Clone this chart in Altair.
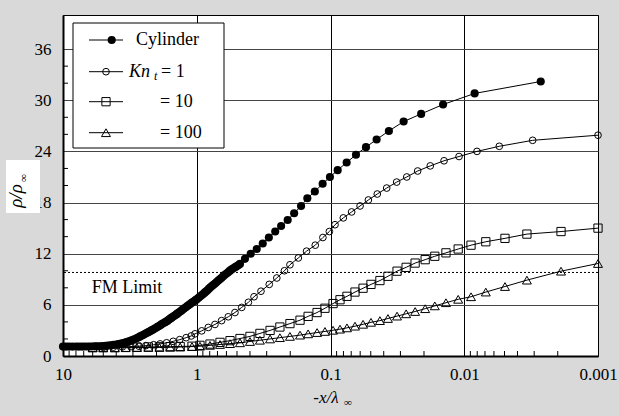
import altair as alt
import pandas as pd

# ---------------- data ----------------
cyl_x = [10, 9.5, 9, 8.5, 8, 7.6, 7.2, 6.85, 6.5, 6.15, 5.8, 5.55, 5.3, 5.05, 4.8, 4.6, 4.4,
         4.2, 4.0, 3.85, 3.7, 3.55, 3.4, 3.3, 3.2, 3.1, 3.0, 2.9, 2.8, 2.72, 2.65, 2.57,
         2.5, 2.43, 2.37, 2.3, 2.24, 2.18, 2.12, 2.06, 2.0, 1.95, 1.9, 1.85, 1.8, 1.75, 1.71,
         1.66, 1.62, 1.58, 1.54, 1.5, 1.46, 1.42, 1.39, 1.355, 1.32, 1.29, 1.26, 1.23, 1.2,
         1.17, 1.14, 1.115, 1.09, 1.065, 1.04, 1.02,
         1.0, 0.975, 0.95, 0.925, 0.9, 0.877, 0.855, 0.832, 0.81, 0.79, 0.77, 0.75, 0.73,
         0.71, 0.69, 0.672, 0.655, 0.637, 0.62, 0.602, 0.585, 0.57, 0.555, 0.54, 0.525,
         0.512, 0.5, 0.487, 0.475,
         0.436, 0.395, 0.356, 0.321, 0.289, 0.259, 0.234, 0.209, 0.187, 0.166,
         0.149, 0.131, 0.1145, 0.101, 0.0884, 0.0757, 0.0645, 0.0543, 0.0452, 0.0366, 0.0284,
         0.021, 0.0144, 0.00836, 0.00268]
cyl_y = [1.1, 1.1, 1.1, 1.1, 1.1, 1.1, 1.1, 1.11, 1.12, 1.12, 1.13, 1.14, 1.15, 1.17, 1.2,
         1.22, 1.25, 1.3, 1.35, 1.4, 1.45, 1.52, 1.6, 1.66, 1.72, 1.8, 1.9, 2.0, 2.1, 2.2,
         2.3, 2.4,
         2.5, 2.6, 2.7, 2.8, 2.9, 3.0, 3.1, 3.22, 3.35, 3.45, 3.55, 3.68, 3.8, 3.9, 4.0,
         4.12, 4.25, 4.38, 4.5, 4.62, 4.75, 4.88, 5.0, 5.12, 5.25, 5.38, 5.5, 5.62, 5.75,
         5.88, 6.0, 6.12, 6.25, 6.35, 6.45, 6.55,
         6.65, 6.8, 6.95, 7.1, 7.25, 7.4, 7.55, 7.72, 7.9, 8.05, 8.2, 8.35, 8.5,
         8.68, 8.85, 9.0, 9.15, 9.32, 9.5, 9.65, 9.8, 9.95, 10.1, 10.22, 10.35,
         10.45, 10.55, 10.68, 10.8,
         11.4, 12.0, 12.55, 13.2, 13.9, 14.6, 15.25, 15.95, 16.75, 17.6,
         18.5, 19.3, 20.2, 21.0, 21.8, 22.7, 23.6, 24.5, 25.4, 26.4, 27.5,
         28.4, 29.5, 30.8, 32.2]

kn1_x = [5.0, 4.2, 3.6, 3.1, 2.7, 2.4, 2.1, 1.88, 1.68, 1.5, 1.34, 1.2, 1.1, 1.03, 0.918, 0.82,
         0.731, 0.652, 0.581, 0.518, 0.461, 0.411, 0.373, 0.331, 0.287, 0.252, 0.221, 0.201,
         0.174, 0.151, 0.13, 0.114, 0.102, 0.0925, 0.0802, 0.0695, 0.0601, 0.0521, 0.0447,
         0.038, 0.032, 0.0269, 0.0223, 0.01795, 0.01416, 0.01094, 0.00803, 0.00547, 0.00308,
         0.001]
kn1_y = [1.02, 1.04, 1.07, 1.1, 1.15, 1.22, 1.32, 1.42, 1.55, 1.72, 1.92, 2.15, 2.35, 2.6,
         2.95, 3.35, 3.7, 4.15, 4.6, 5.1, 5.7, 6.3, 6.95, 7.6, 8.4, 9.15, 10.0, 10.7, 11.5,
         12.3, 13.0, 13.9, 14.6, 15.4, 16.2, 16.9, 17.6, 18.3, 19.0, 19.7, 20.4, 21.0, 21.7,
         22.3, 22.9, 23.4, 24.0, 24.6, 25.3, 25.9]

kn10_x = [6.0, 5.0, 4.1, 3.4, 2.8, 2.3, 1.9, 1.58, 1.33, 1.085, 0.946, 0.796, 0.67, 0.564,
          0.475, 0.4, 0.337, 0.283, 0.239, 0.201, 0.169, 0.147, 0.126, 0.11, 0.0957, 0.0849,
          0.0753, 0.0656, 0.0571, 0.0498, 0.0427, 0.0372, 0.0318, 0.0272, 0.0233, 0.0196,
          0.0166, 0.0137, 0.0111, 0.0089, 0.0069, 0.00496, 0.0034, 0.00189, 0.001]
kn10_y = [1.0, 1.0, 1.0, 1.02, 1.04, 1.06, 1.08, 1.1, 1.12, 1.15, 1.25, 1.4, 1.6, 1.8, 2.05,
          2.3, 2.65, 3.0, 3.4, 3.8, 4.2, 4.65, 5.1, 5.6, 6.15, 6.6, 7.0, 7.5, 7.95, 8.4, 8.85,
          9.35, 9.95, 10.4, 10.9, 11.3, 11.7, 12.1, 12.55, 13.0, 13.4, 13.8, 14.3, 14.6, 15.0]

kn100_x = kn10_x
kn100_y = [0.95, 0.95, 0.95, 0.97, 0.98, 1.0, 1.0, 1.02, 1.05, 1.1, 1.15, 1.25, 1.35, 1.45,
           1.55, 1.7, 1.85, 2.0, 2.15, 2.3, 2.45, 2.6, 2.75, 2.88, 3.02, 3.15, 3.3, 3.5, 3.72,
           3.95, 4.15, 4.4, 4.68, 4.95, 5.22, 5.55, 5.88, 6.25, 6.65, 6.95, 7.5, 8.15, 8.9,
           9.95, 10.85]

fm_limit = 9.8
x_ticks = [10, 1, 0.1, 0.01, 0.001]
y_ticks = [0, 6, 12, 18, 24, 30, 36]
y_minor = [2, 4, 8, 10, 14, 16, 20, 22, 26, 28, 32, 34]
x_minor = [9, 8, 7, 6, 5, 4, 3, 2,
           0.9, 0.8, 0.7, 0.6, 0.5, 0.4, 0.3, 0.2,
           0.09, 0.08, 0.07, 0.06, 0.05, 0.04, 0.03, 0.02,
           0.009, 0.008, 0.007, 0.006, 0.005, 0.004, 0.003, 0.002]

# ---------------- chart ----------------
W, H = 535, 341
FONT = "Liberation Serif"

xscale = alt.Scale(type="log", domain=[0.001, 10], reverse=True)
yscale = alt.Scale(domain=[0, 36])

xaxis = alt.Axis(values=x_ticks, format="~g", title=None, grid=True, gridColor="black",
                 gridWidth=1, tickSize=0, domainColor="black", domainWidth=2,
                 labelFont=FONT, labelFontSize=17, labelColor="black", labelPadding=10,
                 labelFlush=False, labelOverlap=False)
yaxis = alt.Axis(values=y_ticks, title=None, grid=True, gridColor="#444", gridWidth=1.2,
                 tickSize=0, domainColor="black", domainWidth=2, labelFont=FONT,
                 labelFontSize=17, labelColor="black", labelPadding=12)

dummy = pd.DataFrame({"k": [0]})


def series(xs, ys, shape, filled, size):
    df = pd.DataFrame({"x": xs, "y": ys})
    base = alt.Chart(df).encode(
        x=alt.X("x:Q", scale=xscale, axis=xaxis),
        y=alt.Y("y:Q", scale=yscale, axis=yaxis),
    )
    line = base.mark_line(color="black", strokeWidth=1)
    pts = base.mark_point(shape=shape, filled=filled, size=size, color="black",
                          opacity=1, strokeWidth=1)
    return [line, pts]


layers = []

# minor ticks (inside)
layers.append(
    alt.Chart(pd.DataFrame({"v": y_minor})).mark_rule(color="black", strokeWidth=1).encode(
        y=alt.Y("v:Q", scale=yscale, axis=yaxis), x=alt.value(0), x2=alt.value(5))
)
layers.append(
    alt.Chart(pd.DataFrame({"v": x_minor})).mark_rule(color="black", strokeWidth=1).encode(
        x=alt.X("v:Q", scale=xscale, axis=xaxis), y=alt.value(H), y2=alt.value(H - 5))
)

# FM limit
layers.append(
    alt.Chart(dummy).mark_rule(color="black", strokeWidth=1, strokeDash=[2, 2]).encode(
        y=alt.datum(fm_limit))
)
layers.append(
    alt.Chart(dummy).mark_text(font=FONT, fontSize=18, align="left", baseline="middle",
                               color="black").encode(
        x=alt.datum(6.1), y=alt.datum(8.0), text=alt.value("FM Limit"))
)

layers += series(kn100_x, kn100_y, "triangle-up", False, 80)
layers += series(kn10_x, kn10_y, "square", False, 68)
layers += series(kn1_x, kn1_y, "circle", False, 45)
layers += series(cyl_x, cyl_y, "circle", True, 66)

# legend box
layers.append(
    alt.Chart(dummy).mark_rect(fill="white", stroke="black", strokeWidth=1).encode(
        x=alt.value(10), x2=alt.value(161), y=alt.value(8), y2=alt.value(133))
)
leg_rows = [(25, "circle", True, 48.7, 66), (56.7, "circle", False, 43, 45),
            (86.7, "square", False, 43, 68), (117.7, "triangle-up", False, 43, 80)]
for yy, shp, fil, mx, sz in leg_rows:
    layers.append(
        alt.Chart(dummy).mark_rule(color="black", strokeWidth=1).encode(
            x=alt.value(26), x2=alt.value(60), y=alt.value(yy))
    )
    layers.append(
        alt.Chart(dummy).mark_point(shape=shp, filled=fil, color="black", opacity=1,
                                    strokeWidth=1, size=sz).encode(
            x=alt.value(mx), y=alt.value(yy))
    )


def txt(s, x, y, size=18, style="normal", align="left", angle=0):
    return alt.Chart(dummy).mark_text(font=FONT, fontSize=size, fontStyle=style, align=align,
                                      baseline="middle", color="black", angle=angle).encode(
        x=alt.value(x), y=alt.value(y), text=alt.value(s))


layers.append(txt("Cylinder", 73, 25))
layers.append(txt("Kn", 66, 56.7, style="italic"))
layers.append(txt("t", 91, 61, size=12, style="italic"))
layers.append(txt("= 1", 98, 56.7))
layers.append(txt("= 10", 97, 86.7))
layers.append(txt("= 100", 97, 117.7))

# y title with white box
layers.append(
    alt.Chart(dummy).mark_rect(fill="white").encode(
        x=alt.value(-57), x2=alt.value(-23), y=alt.value(145), y2=alt.value(198))
)
layers.append(txt("ρ/ρ", -47, 181, size=19, style="italic", align="center", angle=270))
layers.append(txt("∞", -39, 163, size=11, style="italic", align="center", angle=270))

# x title
layers.append(txt("-x/λ", 263, 383, size=17, style="italic", align="center"))
layers.append(txt("∞", 285, 388, size=11, style="italic", align="center"))

chart = alt.layer(*layers).properties(
    width=W, height=H, background="#d9d9d9",
    padding={"left": 63, "top": 15, "right": 21, "bottom": 60},
    autosize=alt.AutoSizeParams(type="none"),
).configure_view(stroke="black", strokeWidth=1, fill="white")

chart.save("out.html", embed_options={"renderer": "svg", "actions": False})
